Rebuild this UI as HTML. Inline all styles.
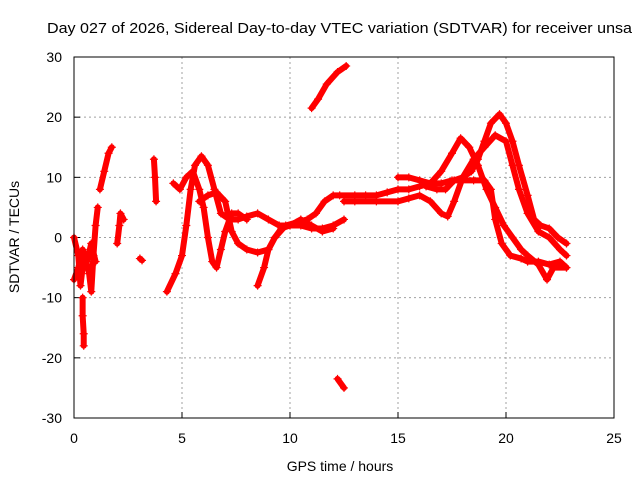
<!DOCTYPE html>
<html><head><meta charset="utf-8"><style>
body{margin:0;background:#fff}
svg{display:block;font-family:"Liberation Sans",sans-serif}
</style></head><body>
<svg width="640" height="480" id="chart">
<rect x="0" y="0" width="640" height="480" fill="#fff"/>
<text x="47" y="33" font-size="15" textLength="585" lengthAdjust="spacingAndGlyphs">Day 027 of 2026, Sidereal Day-to-day VTEC variation (SDTVAR) for receiver unsa</text>
<g id="grid"></g>
<g id="ticks"></g>
<g id="series"></g>
<rect x="74" y="57" width="540" height="361" fill="none" stroke="#000" stroke-width="1"/>
<text x="340" y="471" text-anchor="middle" font-size="14">GPS time / hours</text>
<text transform="translate(19,237) rotate(-90)" text-anchor="middle" font-size="14">SDTVAR / TECUs</text>
</svg>
<script>
const xTicks=[0,5,10,15,20,25];
const yTicks=[-30,-20,-10,0,10,20,30];
const tracks=[
[[0,0],[0.2,-3],[0.3,-8],[0.4,-5],[0.5,-3],[0.7,-6],[0.8,-9],[0.9,-3],[1.0,2],[1.1,5]],
[[0,-7],[0.2,-5],[0.4,-2],[0.6,-4],[0.8,-1],[1.0,-4]],
[[0.4,-10],[0.4,-13],[0.45,-16],[0.45,-18]],
[[1.2,8],[1.4,11],[1.6,14],[1.75,15]],
[[2.0,-1],[2.1,2],[2.15,4],[2.3,3]],
[[3.05,-3.5],[3.15,-3.8]],
[[3.7,13],[3.75,10],[3.8,6]],
[[4.3,-9],[4.7,-6],[5.0,-3],[5.2,2],[5.4,8],[5.6,12],[5.9,13.5],[6.2,12],[6.5,8],[6.8,4],[7.2,3],[7.6,3],[8.0,3.5],[8.5,4],[9.0,3],[9.5,2],[10.0,2],[10.5,2],[11.0,1.5],[11.5,1.5],[12.0,2],[12.5,3]],
[[4.6,9],[4.9,8],[5.2,10],[5.5,11],[5.8,8],[6.0,5],[6.2,0],[6.4,-4],[6.6,-5],[6.8,-2],[7.0,1],[7.3,4],[7.6,4],[8.0,3]],
[[5.8,6],[6.2,7],[6.6,7.5],[7.0,6],[7.3,1],[7.6,-1],[8.0,-2],[8.5,-2.5],[9.0,-2],[9.3,0],[9.6,1.5],[10.0,2],[10.5,3],[11.0,2],[11.5,1],[12.0,1.5]],
[[8.5,-8],[8.8,-5],[9.0,-2],[9.3,0],[9.8,2],[10.3,2.5],[10.8,3],[11.2,4],[11.6,6],[12.0,7],[12.3,7],[13.0,7],[13.5,7],[14.0,7],[14.5,7.5],[15.0,8],[15.5,8],[16.0,8.5],[16.5,9],[17.0,9],[17.5,9.5],[18.0,9.5],[18.5,9.5],[19.0,9.5],[19.3,8],[19.5,3],[19.8,-1],[20.2,-3],[20.7,-3.5],[21.0,-4],[21.5,-4],[22.0,-4.5],[22.5,-4],[22.8,-5]],
[[12.5,6],[13,6],[14,6],[15,6],[15.5,6.5],[16,7],[16.5,6],[17,4],[17.3,3.5],[17.6,6],[18,10],[18.5,13],[19.0,15],[19.5,17],[20.0,16],[20.3,12],[20.6,8],[21.0,4],[21.5,1],[22.0,0],[22.5,-2],[22.8,-3]],
[[15,10],[15.5,10],[16,9.5],[16.5,9],[17,11],[17.5,14],[17.9,16.5],[18.3,15],[18.7,12],[19.1,8],[19.5,5],[19.9,2],[20.3,0],[20.7,-2],[21.0,-3],[21.5,-4.5],[21.9,-7],[22.2,-5],[22.8,-5]],
[[16.3,8.5],[16.8,8],[17.2,8],[17.6,9.5],[18.0,10],[18.4,11],[18.7,13],[19.0,16],[19.3,19],[19.7,20.5],[20.0,19],[20.3,16],[20.6,12],[21.0,7],[21.3,3],[21.6,2],[22.0,1.5],[22.4,0],[22.8,-1]],
[[11.0,21.5],[11.3,23],[11.7,25.5],[12.2,27.5],[12.6,28.5]],
[[12.2,-23.5],[12.5,-25]]
];
const NS='http://www.w3.org/2000/svg';
const X=v=>74+v*21.6, Y=v=>237.5-v*6.017;
const grid=document.getElementById('grid'),ticks=document.getElementById('ticks'),ser=document.getElementById('series');
function mk(tag,at,parent){const e=document.createElementNS(NS,tag);for(const k in at)e.setAttribute(k,at[k]);parent.appendChild(e);return e;}
xTicks.forEach(t=>{
 if(t>0&&t<25){const l=mk('line',{x1:X(t),x2:X(t),y1:57,y2:418,stroke:'#a0a0a0','stroke-dasharray':'2,3'},grid);
 
 }
 const tk=mk('line',{x1:X(t),x2:X(t),y1:418,y2:412,stroke:'#000'},ticks);
 
 
 const tx=mk('text',{x:X(t),y:443,'text-anchor':'middle','font-size':14},ticks);tx.textContent=t;
 
 
});
yTicks.forEach(t=>{
 if(t>-30&&t<30){const l=mk('line',{x1:74,x2:614,y1:Y(t),y2:Y(t),stroke:'#a0a0a0','stroke-dasharray':'2,3'},grid);
 
 }
 const tk=mk('line',{x1:74,x2:80,y1:Y(t),y2:Y(t),stroke:'#000'},ticks);
 
 
 const tx=mk('text',{x:62,y:Y(t)+5,'text-anchor':'end','font-size':14},ticks);tx.textContent=t;
 
 
});
tracks.forEach(tr=>{
 const p=mk('polyline',{points:tr.map(d=>X(d[0])+','+Y(d[1])).join(' '),fill:'none',stroke:'#f00','stroke-width':6,'stroke-linejoin':'round','stroke-linecap':'round'},ser);
 
 
 tr.forEach(d=>{
  const m=mk('path',{d:`M${X(d[0])-4},${Y(d[1])}h8M${X(d[0])},${Y(d[1])-4}v8`,stroke:'#f00','stroke-width':1.2},ser);
  
  
 });
});
</script>
</body></html>
